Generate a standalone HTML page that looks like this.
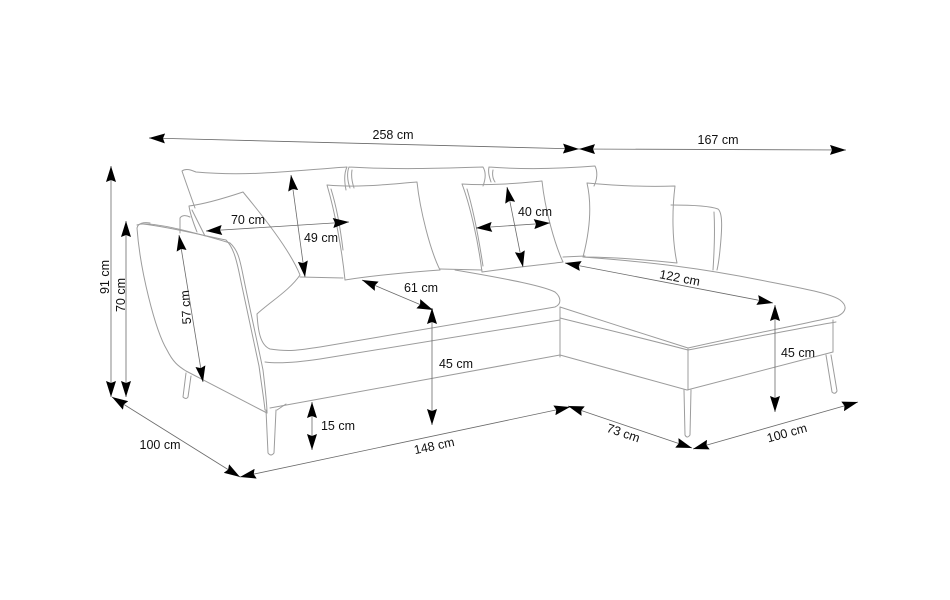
<!DOCTYPE html>
<html><head><meta charset="utf-8"><style>
html,body{margin:0;padding:0;background:#fff;}
svg{display:block;}
text{font-family:"Liberation Sans",Arial,sans-serif;font-size:12.5px;fill:#111;}
.s{fill:none;stroke:#9c9c9c;stroke-width:1;stroke-linejoin:round;stroke-linecap:round;}
.d{stroke:#6a6a6a;stroke-width:0.8;fill:none;marker-start:url(#a);marker-end:url(#a);}
</style></head><body>
<svg width="950" height="600" viewBox="0 0 950 600" xmlns="http://www.w3.org/2000/svg">
<defs>
<marker id="a" viewBox="0 0 16 10" refX="16" refY="5" markerWidth="16" markerHeight="10" markerUnits="userSpaceOnUse" orient="auto-start-reverse"><path d="M0,0 L16,5 L0,10 L2,5 Z" fill="#000"/></marker>
</defs>
<rect width="950" height="600" fill="#fff"/>

<!-- SOFA OUTLINE -->
<g class="s">
<!-- back pillows -->
<path d="M195,208 C190,194 185,180 182,171 C186,168 191,170 196,172 C250,177 300,170 347,167 C344,173 344,180 346,190"/>
<path d="M300,277 L343,278"/>
<path d="M349,167 C347,172 347,180 350,188 M349,167 C400,170 450,168 483,167 C486,172 486,178 483,186 M352,170 C351,176 352,182 354,188"/>
<path d="M440,269 L482,270"/>
<path d="M489,167 C488,172 489,176 491,182 M489,167 C530,170 570,168 595,166 C598,172 597,180 594,186 M493,170 C492,175 493,179 495,182"/>
<path d="M563,257 L585,256"/>
<!-- front pillows -->
<path d="M327,185 C360,188 390,184 417,182 C420,210 430,250 440,270 C410,272 370,276 345,280 C342,250 335,212 327,185 Z"/>
<path d="M331,189 C336,205 340,225 343,250"/>
<path d="M462,184 C490,186 520,183 542,181 C545,210 555,245 563,262 C540,265 510,268 482,272 C478,240 470,205 462,184 Z"/>
<path d="M467,189 C474,212 479,240 483,266"/>
<path d="M587,183 C620,186 650,187 675,186 C672,210 672,240 677,263 C650,260 610,257 583,257 C590,230 592,205 587,183 Z"/>
<path d="M197,232 C193,222 190,213 189,206 C205,204 225,198 243,192 C262,215 290,250 300,275 C290,290 270,302 257,314"/>
<path d="M192,210 C196,218 200,226 205,236"/>
<!-- left arm -->
<path d="M180,233 L180,218 C182,215 186,215 190,217"/>
<path d="M150,223 C144,222 138,223 137,228 C140,270 155,330 167,350 C173,362 178,366 186,371 L267,413"/>
<path d="M137,225 C150,220 200,234 230,243 C238,250 240,260 243,275 C250,310 258,345 263,370 C266,395 267,405 267,413"/>
<path d="M143,224 C170,227 205,236 226,240 C233,247 236,258 239,272 C246,306 254,342 259,366 C262,388 264,400 265,410"/>
<!-- main seat -->
<path d="M257,314 C258,330 260,345 270,349 C290,352 300,350 320,347 L555,307 C562,304 561,297 555,292 C545,287 520,281 455,270"/>
<path d="M265,362 C280,364 300,362 320,359 L560,320"/>
<path d="M270,408 L560,355 L687,390 L833,352"/>
<!-- chaise -->
<path d="M583,257 C650,262 700,268 760,280 C800,288 830,293 840,300 C848,306 846,312 838,316 C800,325 740,336 688,348 C650,336 600,320 560,307"/>
<path d="M560,318 C600,328 650,340 688,350 C740,340 800,328 836,322"/>
<path d="M560,307 L560,357 M688,349 L688,390 M833,320 L833,352"/>
<path d="M671,205 C690,205 710,206 718,209 C723,213 722,230 720,250 C719,260 718,266 717,270"/>
<path d="M714,212 C715,230 714,255 713,270"/>
<!-- legs -->
<path d="M684,390 L685,435 Q687,439 690,435 L691,390"/>
<path d="M826,355 L832,392 Q835,395 837,391 L831,355"/>
<path d="M266,410 L268,453 Q271,457 274,453 L276,410 M277,410 L286,404"/>
<path d="M186,373 L183,397 Q186,400 188,397 L191,376"/>
</g>

<!-- DIMENSION LINES -->
<g class="d">
<line x1="149" y1="138" x2="579" y2="149"/>
<line x1="579" y1="149" x2="846" y2="150"/>
<line x1="111" y1="166" x2="111" y2="397"/>
<line x1="126" y1="221" x2="126" y2="397"/>
<line x1="112" y1="397" x2="240" y2="477"/>
<line x1="240" y1="477" x2="570" y2="407"/>
<line x1="568" y1="406" x2="692" y2="448"/>
<line x1="693" y1="449" x2="858" y2="402"/>
<line x1="775" y1="305" x2="775" y2="412"/>
<line x1="565" y1="263" x2="773" y2="303"/>
<line x1="507" y1="187" x2="523" y2="267"/>
<line x1="476" y1="228" x2="550" y2="223"/>
<line x1="206" y1="231" x2="349" y2="222"/>
<line x1="291" y1="175" x2="305" y2="277"/>
<line x1="179" y1="235" x2="203" y2="382"/>
<line x1="362" y1="280" x2="433" y2="310"/>
<line x1="432" y1="308" x2="432" y2="425"/>
<line x1="312" y1="402" x2="312" y2="450"/>
</g>

<!-- LABELS -->
<g>
<text x="393" y="139" text-anchor="middle">258 cm</text>
<text x="718" y="144" text-anchor="middle">167 cm</text>
<text transform="translate(109,277) rotate(-90)" text-anchor="middle">91 cm</text>
<text transform="translate(125,295) rotate(-90)" text-anchor="middle">70 cm</text>
<text transform="translate(190,307) rotate(-94)" text-anchor="middle">57 cm</text>
<text x="160" y="449" text-anchor="middle">100 cm</text>
<text x="338" y="430" text-anchor="middle">15 cm</text>
<text transform="translate(435,450) rotate(-12)" text-anchor="middle">148 cm</text>
<text x="456" y="368" text-anchor="middle">45 cm</text>
<text x="421" y="292" text-anchor="middle">61 cm</text>
<text x="248" y="224" text-anchor="middle">70 cm</text>
<text x="321" y="242" text-anchor="middle">49 cm</text>
<text x="535" y="216" text-anchor="middle">40 cm</text>
<text transform="translate(679,282) rotate(11)" text-anchor="middle">122 cm</text>
<text transform="translate(622,437) rotate(19)" text-anchor="middle">73 cm</text>
<text transform="translate(788,437) rotate(-15.5)" text-anchor="middle">100 cm</text>
<text x="798" y="357" text-anchor="middle">45 cm</text>
</g>
</svg>
</body></html>
